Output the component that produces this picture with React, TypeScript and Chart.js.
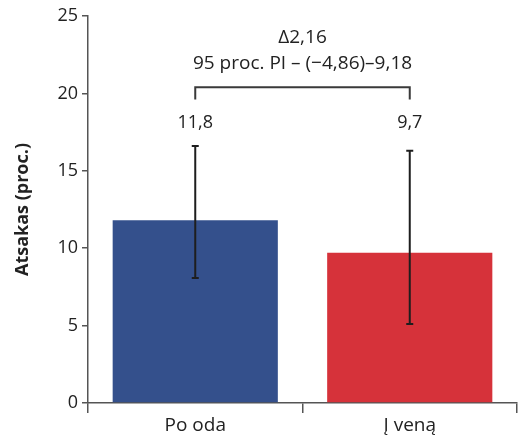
import React, { useEffect, useRef } from "react";
import { Chart, registerables } from "chart.js";

Chart.register(...registerables);

const categories = ["Po oda", "Į veną"];
const values = [11.8, 9.7];
const errLow = [8.08, 5.1];
const errHigh = [16.6, 16.3];
const valueLabels = ["11,8", "9,7"];
const barColors = ["#34508c", "#d6323a"];
const deltaText = "Δ2,16";
const ciText = "95 proc. PI – (−4,86)–9,18";
const yTicks = [0, 5, 10, 15, 20, 25];
const yTitle = "Atsakas (proc.)";

const FONT = "'Open Sans', 'Noto Sans', sans-serif";

const overlayPlugin = {
  id: "overlay",
  afterDatasetsDraw(chart: any) {
    const { ctx, scales } = chart;
    const x = scales.x;
    const y = scales.y;
    ctx.save();
    // error bars
    ctx.strokeStyle = "#1e1e1e";
    ctx.lineWidth = 2;
    values.forEach((_, i) => {
      const px = x.getPixelForValue(i);
      const yl = y.getPixelForValue(errLow[i]);
      const yh = y.getPixelForValue(errHigh[i]);
      ctx.beginPath();
      ctx.moveTo(px, yl);
      ctx.lineTo(px, yh);
      ctx.moveTo(px - 3.5, yl);
      ctx.lineTo(px + 3.5, yl);
      ctx.moveTo(px - 3.5, yh);
      ctx.lineTo(px + 3.5, yh);
      ctx.stroke();
    });
    // value labels
    ctx.fillStyle = "#222";
    ctx.font = `18px ${FONT}`;
    ctx.textAlign = "center";
    ctx.textBaseline = "middle";
    values.forEach((_, i) => {
      ctx.fillText(valueLabels[i], x.getPixelForValue(i), y.getPixelForValue(18.1));
    });
    // bracket
    const x0 = x.getPixelForValue(0);
    const x1 = x.getPixelForValue(1);
    const yTop = y.getPixelForValue(20.4);
    const yLeg = y.getPixelForValue(19.6);
    ctx.strokeStyle = "#3a3a3a";
    ctx.lineWidth = 2;
    ctx.beginPath();
    ctx.moveTo(x0, yLeg);
    ctx.lineTo(x0, yTop);
    ctx.lineTo(x1, yTop);
    ctx.lineTo(x1, yLeg);
    ctx.stroke();
    // annotation text
    const cx = (x0 + x1) / 2;
    ctx.fillStyle = "#222";
    ctx.font = `19px ${FONT}`;
    ctx.fillText(deltaText, cx, y.getPixelForValue(23.6));
    ctx.fillText(ciText, cx, y.getPixelForValue(21.95));
    ctx.restore();
  },
};

export default function App() {
  const ref = useRef<HTMLCanvasElement | null>(null);
  useEffect(() => {
    document.body.style.margin = "0";
    const chart = new Chart(ref.current as HTMLCanvasElement, {
      type: "bar",
      data: {
        labels: categories,
        datasets: [
          {
            data: values,
            backgroundColor: barColors,
            borderWidth: 0,
            barPercentage: 0.77,
            categoryPercentage: 1,
          },
        ],
      },
      options: {
        animation: false,
        responsive: false,
        maintainAspectRatio: false,
        layout: { padding: { top: 16, right: 4, left: 0, bottom: 0 } },
        plugins: {
          legend: { display: false },
          tooltip: { enabled: false },
        },
        scales: {
          x: {
            grid: {
              offset: true,
              drawOnChartArea: false,
              drawTicks: true,
              tickLength: 10,
              color: "#555",
              lineWidth: 1.5,
            },
            border: { display: true, color: "#555", width: 1.5 },
            ticks: {
              color: "#222",
              font: { family: FONT, size: 19 },
              padding: 1,
            },
            afterFit(s: any) {
              s.height = 36;
            },
          },
          y: {
            min: 0,
            max: 25,
            afterBuildTicks(s: any) {
              s.ticks = yTicks.map((v) => ({ value: v }));
            },
            grid: {
              drawOnChartArea: false,
              drawTicks: true,
              tickLength: 6,
              color: "#555",
              lineWidth: 1.5,
            },
            border: { display: true, color: "#555", width: 1.5 },
            ticks: {
              color: "#222",
              font: { family: FONT, size: 18 },
              padding: 4,
            },
            title: {
              display: true,
              text: yTitle,
              color: "#222",
              font: { family: FONT, size: 18, weight: "bold" },
              padding: { top: 12, bottom: 0 },
            },
            afterFit(s: any) {
              s.width = 88;
            },
          },
        },
      },
      plugins: [overlayPlugin],
    } as any);
    return () => chart.destroy();
  }, []);
  return (
    <div style={{ width: 521, height: 439 }}>
      <canvas ref={ref} width={521} height={439} style={{ display: "block", width: 521, height: 439 }} />
    </div>
  );
}
